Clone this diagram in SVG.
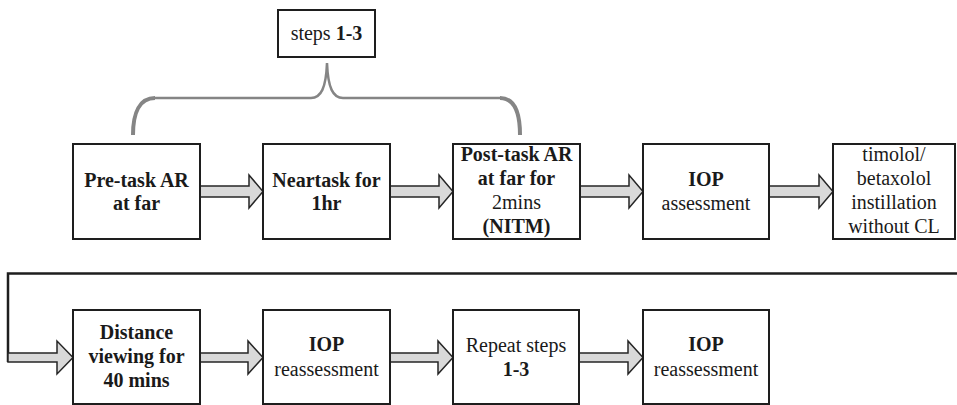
<svg xmlns="http://www.w3.org/2000/svg" width="957" height="405" viewBox="0 0 957 405">
<style>
.box{fill:#fff;stroke:#1e1e1e;stroke-width:2}
.arr{fill:#d9d9d9;stroke:#262626;stroke-width:1.5;stroke-linejoin:miter}
.t{font-family:'Liberation Serif','DejaVu Serif','Times New Roman',serif;font-size:20px;fill:#1a1a1a;text-anchor:middle}
.b{font-weight:bold}
.brace{fill:none;stroke:#858585;stroke-linecap:butt}
.line{fill:none;stroke:#1e1e1e;stroke-width:2.5}
</style>
<rect width="957" height="405" fill="#fff"/>

<g id="connectors">
  <path class="brace" stroke-width="2.5" d="M155,98 L311,98 C321,98 326,88 327,63 C328,88 333,98 343,98 L500,98"/>
  <path class="brace" stroke-width="4" d="M133,135 C133,112 140,98 155,98"/>
  <path class="brace" stroke-width="4" d="M500,98 C514,98 520,112 520,135"/>
  <path class="line" d="M957,273.5 L8,273.5 L8,362"/>
  <path class="arr" d="M200,186 L249,186 L249,175 L263,191.5 L249,208 L249,197 L200,197 Z"/>
  <path class="arr" d="M390,186 L439,186 L439,175 L453,191.5 L439,208 L439,197 L390,197 Z"/>
  <path class="arr" d="M580,186 L629,186 L629,175 L643,191.5 L629,208 L629,197 L580,197 Z"/>
  <path class="arr" d="M769,186 L819,186 L819,175 L833,191.5 L819,208 L819,197 L769,197 Z"/>
  <path class="arr" d="M8,353 L57,353 L57,341 L73,357.5 L57,374 L57,362 L8,362 Z"/>
  <path class="arr" d="M200,353 L248,353 L248,341 L263,357.5 L248,374 L248,362 L200,362 Z"/>
  <path class="arr" d="M390,353 L438,353 L438,341 L453,357.5 L438,374 L438,362 L390,362 Z"/>
  <path class="arr" d="M579,353 L628,353 L628,341 L643,357.5 L628,374 L628,362 L579,362 Z"/>
</g>

<g id="steps">
  <rect class="box" x="278" y="10" width="97" height="47"/>
  <text class="t" x="326.5" y="40">steps <tspan class="b">1-3</tspan></text>
</g>

<g id="pretask">
  <rect class="box" x="73" y="144" width="127" height="95"/>
  <text class="t b" x="136.5" y="187">Pre-task AR</text>
  <text class="t b" x="136.5" y="210">at far</text>
</g>
<g id="neartask">
  <rect class="box" x="263" y="144" width="127" height="95"/>
  <text class="t b" x="326.5" y="187">Neartask for</text>
  <text class="t b" x="326.5" y="210">1hr</text>
</g>
<g id="posttask">
  <rect class="box" x="453" y="144" width="127" height="95"/>
  <text class="t b" x="516.5" y="161">Post-task AR</text>
  <text class="t b" x="516.5" y="185">at far for</text>
  <text class="t" x="516.5" y="209">2mins</text>
  <text class="t b" x="516.5" y="233">(NITM)</text>
</g>
<g id="iop1">
  <rect class="box" x="643" y="144" width="126" height="95"/>
  <text class="t b" x="706" y="186">IOP</text>
  <text class="t" x="706" y="210">assessment</text>
</g>
<g id="timolol">
  <rect class="box" x="833" y="144" width="122" height="95"/>
  <text class="t" x="894" y="161">timolol/</text>
  <text class="t" x="894" y="185">betaxolol</text>
  <text class="t" x="894" y="209">instillation</text>
  <text class="t" x="894" y="233">without CL</text>
</g>

<g id="distance">
  <rect class="box" x="73" y="310" width="127" height="94"/>
  <text class="t b" x="136.5" y="339">Distance</text>
  <text class="t b" x="136.5" y="363">viewing for</text>
  <text class="t b" x="136.5" y="387">40 mins</text>
</g>
<g id="iop2">
  <rect class="box" x="263" y="310" width="127" height="94"/>
  <text class="t b" x="326.5" y="351">IOP</text>
  <text class="t" x="326.5" y="376">reassessment</text>
</g>
<g id="repeat">
  <rect class="box" x="453" y="310" width="126" height="94"/>
  <text class="t" x="516" y="352">Repeat steps</text>
  <text class="t b" x="516" y="376">1-3</text>
</g>
<g id="iop3">
  <rect class="box" x="643" y="310" width="126" height="94"/>
  <text class="t b" x="706" y="351">IOP</text>
  <text class="t" x="706" y="376">reassessment</text>
</g>
</svg>
